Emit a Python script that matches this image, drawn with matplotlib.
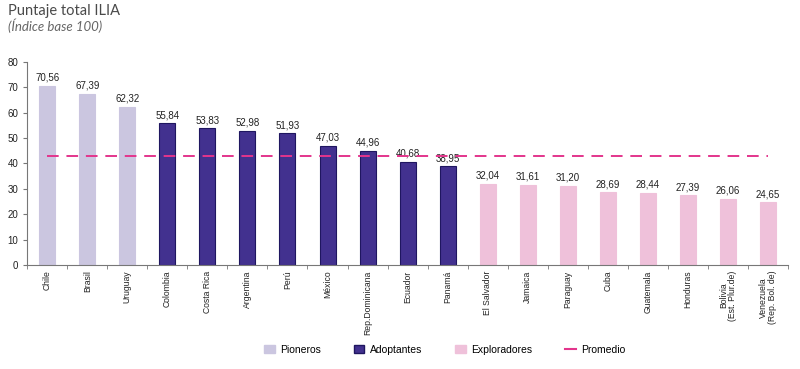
import numpy as np
import matplotlib
matplotlib.use("Agg")
import matplotlib.pyplot as plt
from matplotlib.patches import Patch
from matplotlib.lines import Line2D

## Data
paises = ["Chile", "Brasil", "Uruguay", "Colombia", "Costa Rica", "Argentina",
          "Perú", "México", "Rep.Dominicana", "Ecuador", "Panamá", "El Salvador",
          "Jamaica", "Paraguay", "Cuba", "Guatemala", "Honduras",
          "Bolivia\n(Est. Plur.de)", "Venezuela\n(Rep. Bol. de)"]
puntaje = [70.56, 67.39, 62.32, 55.84, 53.83, 52.98, 51.93, 47.03, 44.96, 40.68,
           38.95, 32.04, 31.61, 31.20, 28.69, 28.44, 27.39, 26.06, 24.65]
grupo = ["Pioneros"] * 3 + ["Adoptantes"] * 8 + ["Exploradores"] * 8
promedio = 42.98

colores = {"Pioneros": "#cbc6e0", "Adoptantes": "#42318f", "Exploradores": "#efc1da"}
bordes = {"Pioneros": "#cbc6e0", "Adoptantes": "#1f1660", "Exploradores": "#efc1da"}
c_prom = "#e3358c"

narrow = ["Liberation Sans Narrow", "Liberation Sans", "DejaVu Sans"]
title_font = ["Lato", "DejaVu Sans"]

fig = plt.figure(figsize=(8, 3.69), dpi=100)
ax = fig.add_axes([0.034, 0.282, 0.951, 0.55])

x = np.arange(len(paises))
ax.bar(x, puntaje, width=0.4,
       color=[colores[g] for g in grupo],
       edgecolor=[bordes[g] for g in grupo], linewidth=0.8, zorder=2)
for xi, v in zip(x, puntaje):
    ax.text(xi, v + 1.2, f"{v:.2f}".replace(".", ","), ha="center", va="bottom",
            fontsize=7, family=narrow, color="#222222")

ax.plot([x[0], x[-1]], [promedio, promedio], color=c_prom, linestyle=(0, (6, 4)),
        linewidth=1.4, zorder=3)

ax.set_xlim(-0.5, len(paises) - 0.5)
ax.set_ylim(0, 80)
ax.set_yticks(range(0, 81, 10))
ax.set_xticks(x)
ax.set_xticklabels(paises, rotation=90, fontsize=6.2, family=narrow, color="#222222",
                   linespacing=0.9)
ax.set_xticks(np.arange(-0.5, len(paises)), minor=True)
ax.tick_params(axis="x", which="major", length=0, pad=4)
ax.tick_params(axis="x", which="minor", length=3, color="#777777")
ax.tick_params(axis="y", length=3, labelsize=7, color="#777777", labelcolor="#222222")
for lab in ax.get_yticklabels():
    lab.set_family(narrow)
for s in ["top", "right"]:
    ax.spines[s].set_visible(False)
for s in ["left", "bottom"]:
    ax.spines[s].set_color("#777777")
    ax.spines[s].set_linewidth(0.8)

fig.text(0.01, 0.97, "Puntaje total ILIA", fontsize=10.5, color="#4a4a4a",
         family=title_font, va="center")
fig.text(0.01, 0.93, "(Índice base 100)", fontsize=9.5, color="#666666",
         family=title_font, style="italic", va="center")

handles = [Patch(facecolor=colores["Pioneros"], edgecolor=bordes["Pioneros"], label="Pioneros"),
           Patch(facecolor=colores["Adoptantes"], edgecolor=bordes["Adoptantes"], label="Adoptantes"),
           Patch(facecolor=colores["Exploradores"], edgecolor=bordes["Exploradores"], label="Exploradores"),
           Line2D([0], [0], color=c_prom, linewidth=1.5, label="Promedio")]
fig.legend(handles=handles, loc="center", bbox_to_anchor=(0.556, 0.052), ncol=4,
           frameon=False, prop={"family": narrow, "size": 7.5}, handlelength=1.0,
           handleheight=0.8, handletextpad=0.5, columnspacing=3.2)

fig.savefig("out.png", dpi=100)
